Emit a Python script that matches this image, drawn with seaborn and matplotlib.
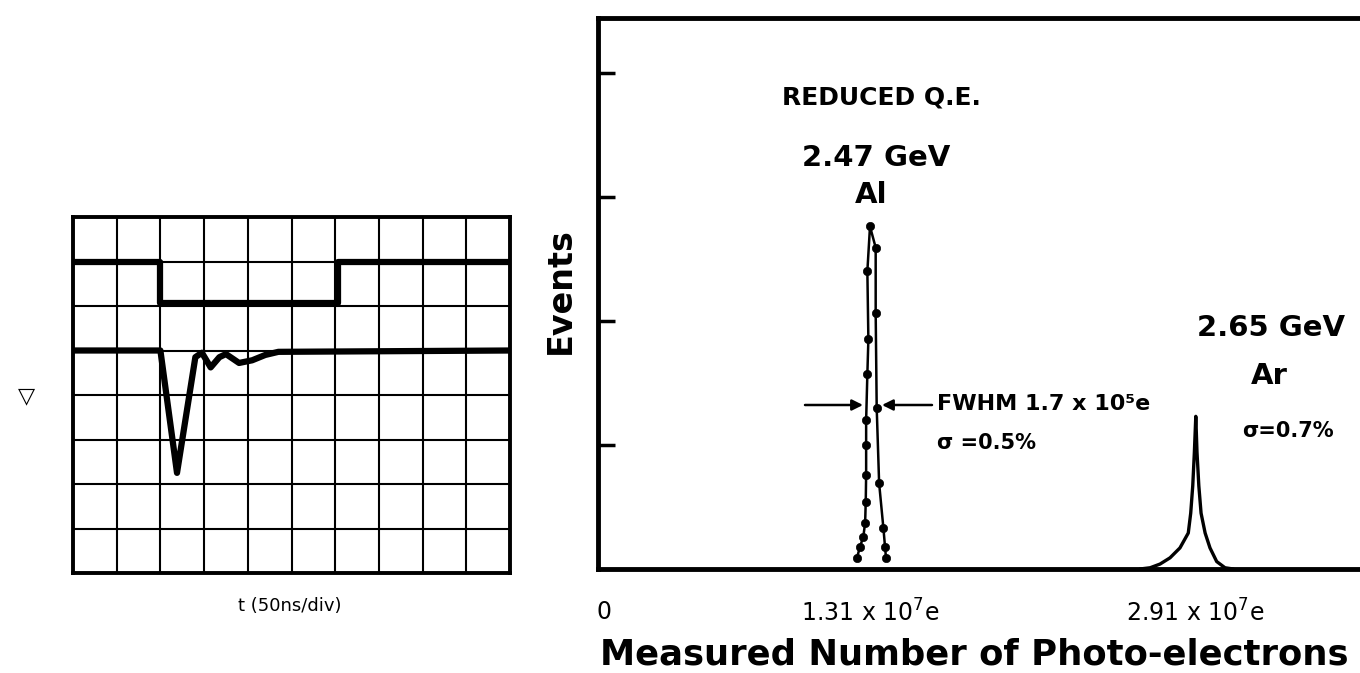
import matplotlib
matplotlib.use("Agg")
import matplotlib.pyplot as plt
import seaborn as sns
import pandas as pd

# ---------------- data ----------------
# oscilloscope traces (units: divisions)
gate_t = [0.0, 1.98, 1.98, 6.07, 6.07, 10.0]
gate_v = [7.0, 7.0, 6.07, 6.07, 7.0, 7.0]
pulse_t = [0.0, 2.0, 2.38, 2.8, 2.95, 3.15, 3.35, 3.5, 3.8, 4.1, 4.4, 4.7, 10.0]
pulse_v = [5.0, 5.0, 2.25, 4.85, 4.95, 4.62, 4.85, 4.92, 4.72, 4.78, 4.9, 4.97, 5.0]

# Al peak (x in 1e7 photo-electrons, y in events)
al_x = [1.245, 1.261, 1.277, 1.286, 1.289, 1.291, 1.291, 1.291, 1.297, 1.302,
        1.297, 1.310, 1.338, 1.338, 1.343, 1.355, 1.376, 1.384, 1.389]
al_y = [8.6, 18, 26, 37, 54, 76, 100, 120, 157, 185,
        240, 276, 259, 206, 130, 69, 33, 18, 8.6]

# Ar peak
ar_x = [2.64, 2.690, 2.739, 2.788, 2.837, 2.878, 2.890, 2.900, 2.908, 2.915,
        2.921, 2.930, 2.941, 2.961, 2.985, 3.018, 3.059, 3.10]
ar_y = [0, 1, 4, 9, 17, 29, 45, 67, 94, 123, 94, 67, 45, 29, 17, 6, 1, 0]

xtick_pos = [0, 1.31, 2.91]
xtick_labels = ["0", "1.31 x 10$^7$e", "2.91 x 10$^7$e"]
ytick_pos = [100, 200, 300, 400]

# ---------------- style ----------------
sns.set_style("white")
plt.rcParams['font.family'] = ['DejaVu Sans']
plt.rcParams['text.color'] = 'black'
plt.rcParams['axes.labelcolor'] = 'black'
plt.rcParams['xtick.color'] = 'black'
plt.rcParams['ytick.color'] = 'black'

W, H = 1360, 673
fig = plt.figure(figsize=(W / 100, H / 100), dpi=100)


def P(x, y):
    return (x / W, 1 - y / H)


# ---------------- left: oscilloscope ----------------
axL = fig.add_axes([73 / W, 1 - 573 / H, 437 / W, 356 / H])
gate_df = pd.DataFrame({"t": gate_t, "v": gate_v})
pulse_df = pd.DataFrame({"t": pulse_t, "v": pulse_v})
sns.lineplot(data=gate_df, x="t", y="v", sort=False, estimator=None,
             color="black", lw=4.5, ax=axL)
sns.lineplot(data=pulse_df, x="t", y="v", sort=False, estimator=None,
             color="black", lw=4.5, ax=axL)
axL.set_xlim(0, 10)
axL.set_ylim(0, 8)
axL.set_xticks(range(11))
axL.set_yticks(range(9))
axL.grid(True, color="black", lw=1.5)
axL.set_axisbelow(True)
axL.tick_params(length=0, labelbottom=False, labelleft=False)
axL.set_xlabel("")
axL.set_ylabel("")
for s in axL.spines.values():
    s.set_linewidth(2.8)
    s.set_color("black")

fig.text(*P(290, 606), "t (50ns/div)", ha="center", va="center", fontsize=13)
fig.text(*P(27, 396), "▽", ha="center", va="center", fontsize=16)

# ---------------- right: spectrum ----------------
axR = fig.add_axes([598 / W, 1 - 569 / H, 762 / W, 551 / H])
al_df = pd.DataFrame({"x": al_x, "y": al_y})
ar_df = pd.DataFrame({"x": ar_x, "y": ar_y})
sns.lineplot(data=al_df, x="x", y="y", sort=False, estimator=None,
             color="black", lw=1.8, ax=axR)
sns.scatterplot(data=al_df, x="x", y="y", color="black", s=36,
                edgecolor="black", ax=axR, zorder=3)
sns.lineplot(data=ar_df, x="x", y="y", sort=False, estimator=None,
             color="black", lw=2.4, ax=axR)

axR.set_xlim(-0.03, 3.724)
axR.set_ylim(0, 444)
axR.set_xticks(xtick_pos)
axR.set_xticklabels(xtick_labels, fontsize=17)
axR.set_yticks(ytick_pos)
axR.tick_params(axis="x", length=0, pad=22)
axR.tick_params(axis="y", direction="in", length=12, width=2.5,
                labelleft=False, left=True)
axR.spines["right"].set_visible(False)
for k in ("left", "top", "bottom"):
    axR.spines[k].set_linewidth(3.5)
    axR.spines[k].set_color("black")

axR.set_xlabel("Measured Number of Photo-electrons", fontsize=25.5,
               fontweight="bold")
axR.xaxis.set_label_coords(0.494, -0.125)
axR.set_ylabel("Events", fontsize=24, fontweight="bold")
axR.yaxis.set_label_coords(-0.028, 0.506)

# annotations
fig.text(*P(782, 97), "REDUCED Q.E.", ha="left", va="center",
         fontsize=18, fontweight="bold")
fig.text(*P(876, 158), "2.47 GeV", ha="center", va="center",
         fontsize=21, fontweight="bold")
fig.text(*P(871, 195), "Al", ha="center", va="center",
         fontsize=21, fontweight="bold")
fig.text(*P(937, 404), "FWHM 1.7 x 10⁵e", ha="left", va="center",
         fontsize=16, fontweight="bold")
fig.text(*P(937, 443), "σ =0.5%", ha="left", va="center",
         fontsize=15, fontweight="bold")
fig.text(*P(1271, 328), "2.65 GeV", ha="center", va="center",
         fontsize=21, fontweight="bold")
fig.text(*P(1269, 376), "Ar", ha="center", va="center",
         fontsize=21, fontweight="bold")
fig.text(*P(1242, 431), "σ=0.7%", ha="left", va="center",
         fontsize=15, fontweight="bold")

arrow_kw = dict(arrowstyle="-|>", color="black", lw=1.8, mutation_scale=16,
                shrinkA=0, shrinkB=0)
axR.annotate("", xy=P(863, 405), xytext=P(805, 405),
             xycoords="figure fraction", textcoords="figure fraction",
             arrowprops=arrow_kw)
axR.annotate("", xy=P(882, 405), xytext=P(932, 405),
             xycoords="figure fraction", textcoords="figure fraction",
             arrowprops=arrow_kw)

fig.savefig("out.png", dpi=100)
